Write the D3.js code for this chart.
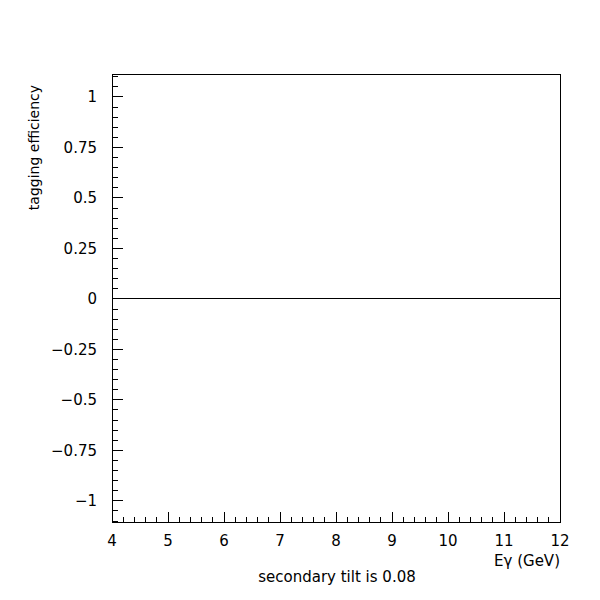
<!DOCTYPE html>
<html>
<head>
<meta charset="utf-8">
<script src="https://cdn.jsdelivr.net/npm/d3@7"></script>
<style>
  body { margin: 0; background: #fff; }
  text { font-family: "DejaVu Sans", sans-serif; fill: #000; }
</style>
</head>
<body>
<svg id="chart" width="600" height="600"></svg>
<script>
// axis ranges and ticks
var xDomain = [4, 12];
var yDomain = [-1.107, 1.111];
var xMajor = [4, 5, 6, 7, 8, 9, 10, 11, 12];
var yMajor = [-1, -0.75, -0.5, -0.25, 0, 0.25, 0.5, 0.75, 1];
var yLabels = ["\u22121", "\u22120.75", "\u22120.5", "\u22120.25", "0", "0.25", "0.5", "0.75", "1"];

// the efficiency curve (flat at zero)
var effX = [4, 12];
var effY = [0, 0];

var svg = d3.select("#chart");
var pLeft = 112, pRight = 560, pTop = 74.5, pBottom = 522.5;

var x = d3.scaleLinear().domain(xDomain).range([pLeft, pRight]);
var y = d3.scaleLinear().domain(yDomain).range([pBottom, pTop]);

// minor ticks
var xMinor = d3.range(xDomain[0], xDomain[1] + 0.001, 0.2);
var yMinor = d3.range(-1.1, 1.1001, 0.05);

var g = svg.append("g").attr("stroke", "#000").attr("stroke-width", 1).attr("shape-rendering", "crispEdges");

g.append("rect")
    .attr("x", pLeft).attr("y", pTop)
    .attr("width", pRight - pLeft).attr("height", pBottom - pTop)
    .attr("fill", "none");

g.selectAll("line.xminor")
    .data(xMinor)
    .enter().append("line")
    .attr("x1", function(d) { return x(d); })
    .attr("x2", function(d) { return x(d); })
    .attr("y1", pBottom)
    .attr("y2", function(d, i) { return i % 5 === 0 ? pBottom - 11 : pBottom - 5.5; });

g.selectAll("line.yminor")
    .data(yMinor)
    .enter().append("line")
    .attr("y1", function(d) { return y(d); })
    .attr("y2", function(d) { return y(d); })
    .attr("x1", pLeft)
    .attr("x2", function(d) {
      var r = Math.abs(Math.round(d * 100)) % 25;
      return r === 0 ? pLeft + 11 : pLeft + 5.5;
    });

var line = d3.line()
    .x(function(d) { return x(d[0]); })
    .y(function(d) { return y(d[1]); });

g.append("path")
    .datum(d3.zip(effX, effY))
    .attr("fill", "none")
    .attr("d", line);

svg.selectAll("text.xl")
    .data(xMajor)
    .enter().append("text")
    .attr("x", function(d) { return x(d); })
    .attr("y", 546)
    .attr("text-anchor", "middle")
    .style("font-size", "15px")
    .text(function(d) { return d; });

svg.selectAll("text.yl")
    .data(yMajor)
    .enter().append("text")
    .attr("x", 97)
    .attr("y", function(d) { return y(d) + 5.5; })
    .attr("text-anchor", "end")
    .style("font-size", "15px")
    .text(function(d, i) { return yLabels[i]; });

svg.append("text")
    .attr("x", 560).attr("y", 566)
    .attr("text-anchor", "end")
    .style("font-size", "15px")
    .text("E\u03b3 (GeV)");

svg.append("text")
    .attr("x", 337).attr("y", 582)
    .attr("text-anchor", "middle")
    .style("font-size", "15px")
    .text("secondary tilt is 0.08");

svg.append("text")
    .attr("transform", "translate(39,85) rotate(-90)")
    .attr("text-anchor", "end")
    .style("font-size", "14px")
    .text("tagging efficiency");
</script>
</body>
</html>
